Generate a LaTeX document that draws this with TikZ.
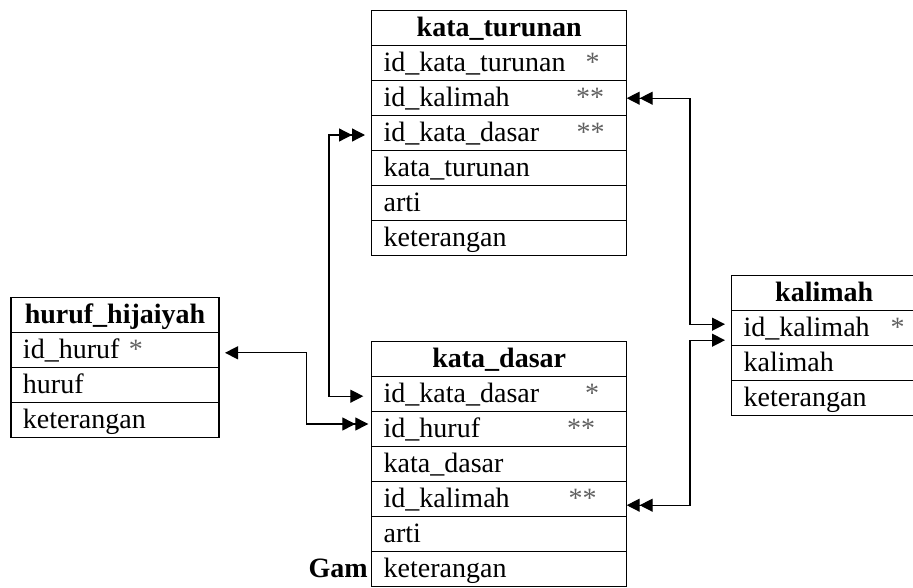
\documentclass[tikz,border=0pt]{standalone}
\usepackage{fontspec}
\setmainfont{Liberation Serif}
\usetikzlibrary{arrows.meta,calc}
\definecolor{starc}{gray}{0.38}
\begin{document}
\begin{tikzpicture}[x=1pt,y=-1pt,
  font=\fontsize{28}{32}\selectfont,
  cellbase/.style={draw, line width=1.2pt, rectangle, inner xsep=12pt, inner ysep=0pt, outer sep=0pt, minimum height=35pt, text height=22pt, text depth=5pt, align=left},
  head/.style={cellbase, anchor=north west, align=center, font=\fontsize{28}{32}\selectfont\bfseries},
  row/.style={cellbase, anchor=north},
  wA/.style={text width=231pt},
  wH/.style={text width=184pt},
  wK/.style={text width=161pt},
  starmark/.style={anchor=base, text=starc, inner sep=0pt},
  con/.style={line width=1.3pt},
]
\clip (0,0) rectangle (913,587);

% kata_turunan
\node[head,wA] (kt0) at (371.7,10.7) {kata\_turunan};
\node[row,wA] (kt1) at (kt0.south) {id\_kata\_turunan};
\node[row,wA] (kt2) at (kt1.south) {id\_kalimah};
\node[row,wA] (kt3) at (kt2.south) {id\_kata\_dasar};
\node[row,wA] (kt4) at (kt3.south) {kata\_turunan};
\node[row,wA] (kt5) at (kt4.south) {arti};
\node[row,wA] (kt6) at (kt5.south) {keterangan};
\node[starmark] (kts1) at ($(kt1.base east)+(-34,0)$) {*};
\node[starmark] (kts2) at ($(kt2.base east)+(-36.5,0)$) {**};
\node[starmark] (kts3) at ($(kt3.base east)+(-36,0)$) {**};

% kata_dasar
\node[head,wA] (kd0) at (371.7,341.7) {kata\_dasar};
\node[row,wA] (kd1) at (kd0.south) {id\_kata\_dasar};
\node[row,wA] (kd2) at (kd1.south) {id\_huruf};
\node[row,wA] (kd3) at (kd2.south) {kata\_dasar};
\node[row,wA] (kd4) at (kd3.south) {id\_kalimah};
\node[row,wA] (kd5) at (kd4.south) {arti};
\node[row,wA] (kd6) at (kd5.south) {keterangan};
\node[starmark] (kds1) at ($(kd1.base east)+(-34.5,0)$) {*};
\node[starmark] (kds2) at ($(kd2.base east)+(-45.5,0)$) {**};
\node[starmark] (kds4) at ($(kd4.base east)+(-44,0)$) {**};

% huruf_hijaiyah
\node[head,wH] (hh0) at (11,297.3) {huruf\_hijaiyah};
\node[row,wH] (hh1) at (hh0.south) {id\_huruf \textcolor{starc}{*}};
\node[row,wH] (hh2) at (hh1.south) {huruf};
\node[row,wH] (hh3) at (hh2.south) {keterangan};

% kalimah
\node[head,wK] (kl0) at (731.7,275.7) {kalimah};
\node[row,wK] (kl1) at (kl0.south) {id\_kalimah};
\node[row,wK] (kl2) at (kl1.south) {kalimah};
\node[row,wK] (kl3) at (kl2.south) {keterangan};
\node[starmark] (kls1) at ($(kl1.base west)+(166,0)$) {*};

% caption fragment
\node[anchor=base east, inner sep=0pt, font=\fontsize{28}{32}\selectfont\bfseries] (gam) at ($(kd6.base west)+(-3.7,0)$) {Gam};

% connectors
\draw[con, {Triangle[length=13pt,width=13pt,sep=0pt]Triangle[length=13pt,width=13pt]}-{Triangle[length=13pt,width=13pt]}]
  (kt2.east) -| ($(kl1.west)+(-41.7,-4)$) -- ($(kl1.west)+(-6.7,-4)$);
\draw[con, {Triangle[length=13pt,width=13pt]}-{Triangle[length=13pt,width=13pt,sep=0pt]Triangle[length=13pt,width=13pt]}]
  ($(kl1.west)+(-6.7,12)$) -| ($(kd4.east)+(63.3,6)$) -- ($(kd4.east)+(0,6)$);
\draw[con, {Triangle[length=13pt,width=13pt]}-{Triangle[length=13pt,width=13pt,sep=0pt]Triangle[length=13pt,width=13pt]}]
  ($(kd1.west)+(-8.4,2)$) -| ($(kt3.west)+(-42.7,1.8)$) -- ($(kt3.west)+(-6.7,1.8)$);
\draw[con, {Triangle[length=13pt,width=13pt]}-{Triangle[length=13pt,width=13pt,sep=0pt]Triangle[length=13pt,width=13pt]}]
  ($(hh1.east)+(6,3)$) -| ($(kd2.west)+(-65,-5.2)$) -- ($(kd2.west)+(-3.4,-5.2)$);
\end{tikzpicture}
\end{document}
